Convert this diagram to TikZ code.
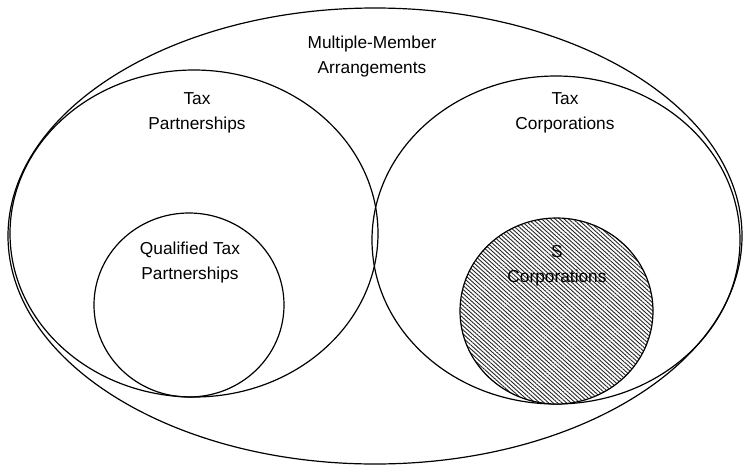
\documentclass[tikz,border=0pt]{standalone}
\usepackage{fontspec}
\setmainfont{Liberation Sans}
\usetikzlibrary{patterns.meta}
\begin{document}
\begin{tikzpicture}[x=1pt,y=-1pt,
  outline/.style={draw=black,line width=1.2pt},
  lbl/.style={align=center,font=\fontsize{17.3}{25}\selectfont,inner sep=0pt},
  hatch/.style={pattern={Lines[angle=-42,distance=3pt,line width=0.9pt]},pattern color=black!85}]
\useasboundingbox (0,0) rectangle (744,466);
% outer set
\draw[outline] (375,236) ellipse [x radius=367, y radius=228];
% tax partnerships
\draw[outline] (194,233.5) ellipse [x radius=184, y radius=163.5];
% tax corporations
\draw[outline] (556,240) ellipse [x radius=184, y radius=164];
% qualified tax partnerships
\draw[outline] (189,305) ellipse [x radius=95, y radius=92];
% S corporations (hatched)
\fill[white] (556.5,311) ellipse [x radius=96.5, y radius=93];
\fill[hatch] (556.5,311) ellipse [x radius=96.5, y radius=93];
\draw[outline] (556.5,311) ellipse [x radius=96.5, y radius=93];
% labels
\node[lbl] (mma) at (372,57) {Multiple-Member\\Arrangements};
\node[lbl] (tp) at (197,113) {Tax\\Partnerships};
\node[lbl] (tc) at (565,113) {Tax\\Corporations};
\node[lbl] (qtp) at (190,263) {Qualified Tax\\Partnerships};
\node[lbl] (sc) at (557,266) {S\\Corporations};
\end{tikzpicture}
\end{document}
